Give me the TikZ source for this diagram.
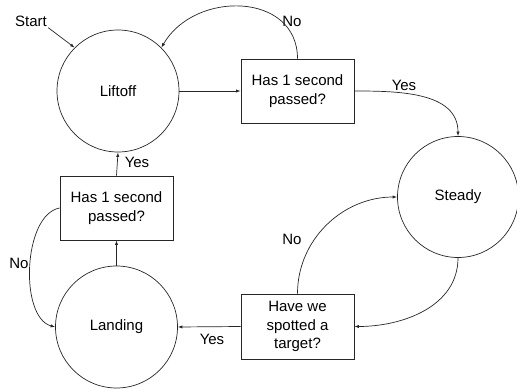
\documentclass[tikz,border=0pt]{standalone}
\usepackage{fontspec}
\setmainfont{Liberation Sans}
\usetikzlibrary{arrows.meta}
\begin{document}
\begin{tikzpicture}[x=1pt,y=1pt,
  font=\fontsize{15}{18.5}\selectfont,
  line width=0.7pt,
  state/.style={draw=black!85,circle,minimum size=122pt,inner sep=0pt},
  qbox/.style={draw=black!85,rectangle,minimum width=113pt,minimum height=64pt,align=center,inner sep=1pt},
  lbl/.style={inner sep=1pt},
  arr/.style={draw=black!85,-{Latex[length=4.5pt,width=3.2pt]}}]
\useasboundingbox (0,0) rectangle (517,-391);
\node[state] (lift) at (118,-91) {Liftoff};
\node[qbox] (q1) at (297.5,-91) {Has 1 second\\passed?};
\node[state,minimum size=121pt] (steady) at (458,-197) {Steady};
\node[qbox,minimum height=65pt] (q2) at (297.5,-326.5) {Have we\\spotted a\\target?};
\node[state] (land) at (116.5,-327) {Landing};
\node[qbox] (q3) at (116.5,-208) {Has 1 second\\passed?};
\node[lbl] (start) at (31,-21) {Start};
\node[lbl] (no1) at (292,-21) {No};
\node[lbl] (yes1) at (404,-85) {Yes};
\node[lbl] (no2) at (292,-239) {No};
\node[lbl] (yes2) at (212,-339) {Yes};
\node[lbl] (yes3) at (137,-162) {Yes};
\node[lbl] (no3) at (19,-263) {No};
\draw[arr] (start.south east) -- (lift.135);
\draw[arr] (lift.east) -- (q1.west);
\draw[arr] (q1.north) to[out=90,in=60,looseness=1.25] (lift.45);
\draw[arr] (q1.east) to[out=0,in=90] (steady.north);
\draw[arr] (steady.south) to[out=-90,in=0] (q2.east);
\draw[arr] (q2.north) to[out=90,in=180] (steady.west);
\draw[arr] (q2.west) -- (land.east);
\draw[arr] (land.north) -- (q3.south);
\draw[arr] (q3.north) -- (lift.south);
\draw[arr] (q3.west) to[out=190,in=165,looseness=0.8] (land.west);
\end{tikzpicture}
\end{document}
